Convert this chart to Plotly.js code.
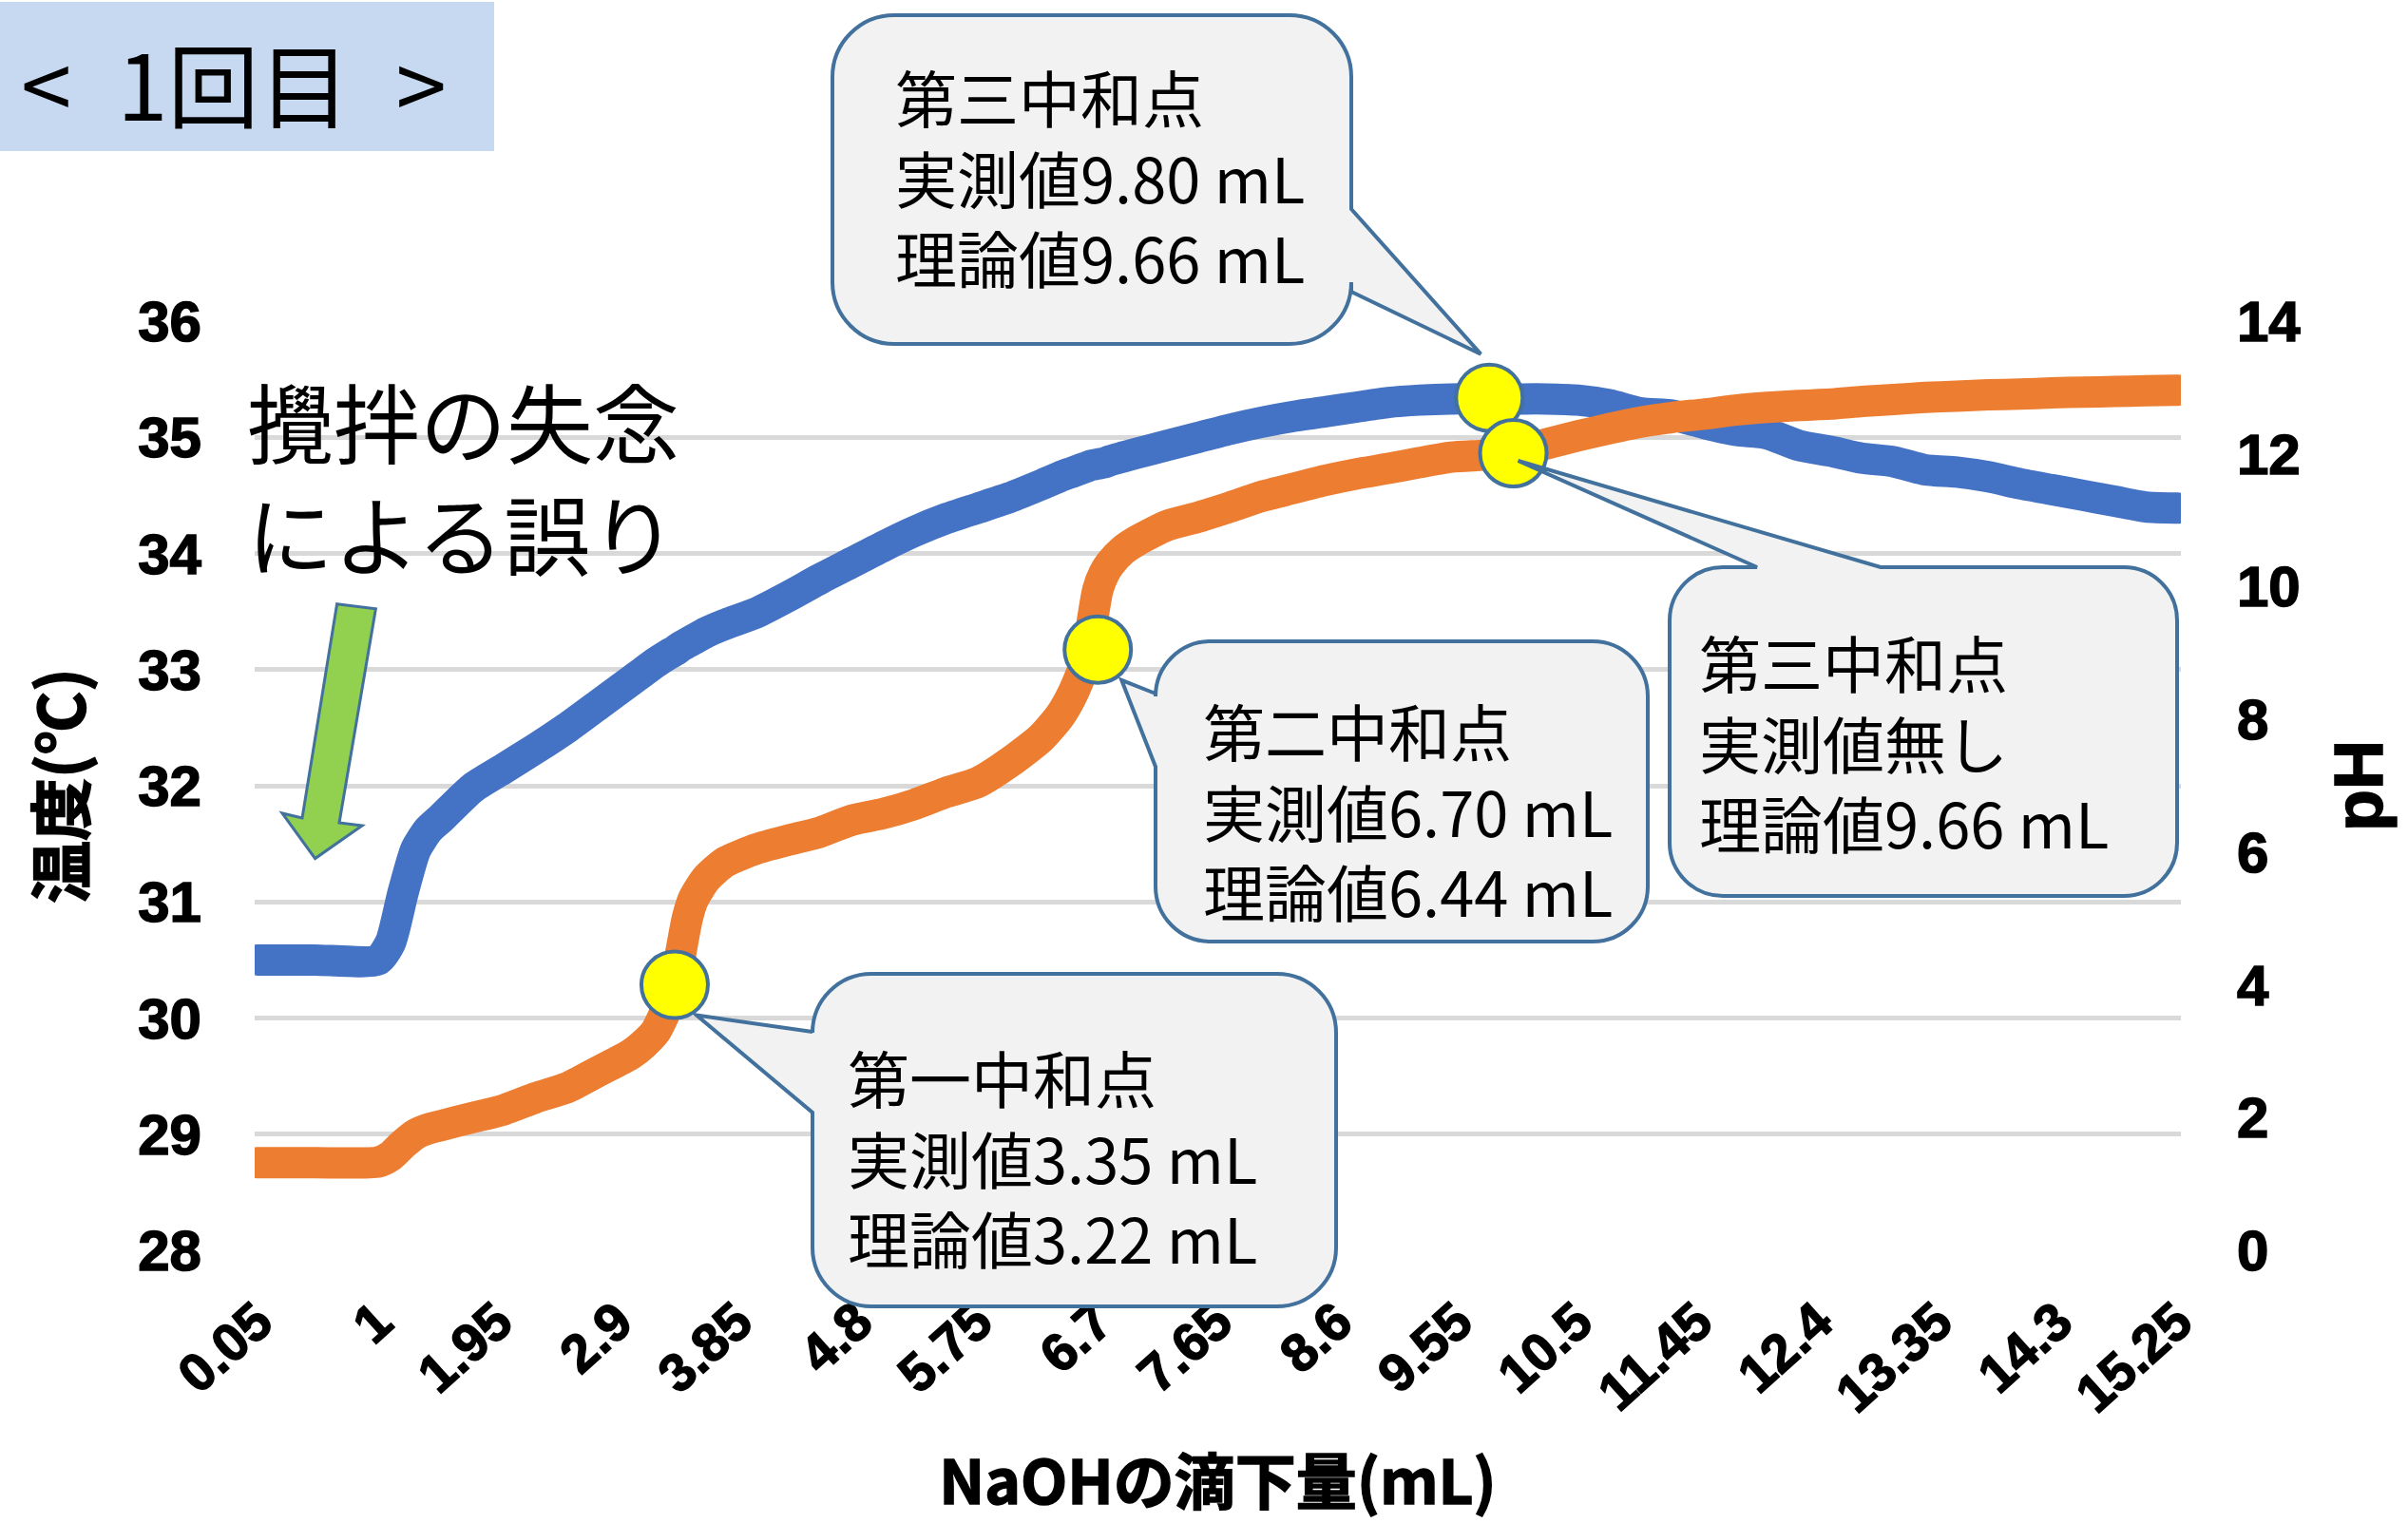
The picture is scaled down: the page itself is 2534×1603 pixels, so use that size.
<!DOCTYPE html>
<html lang="ja">
<head>
<meta charset="utf-8">
<title>1回目 滴定曲線</title>
<script src="https://cdn.plot.ly/plotly-3.0.1.min.js"></script>
<style>
  html, body { margin: 0; padding: 0; background: #ffffff; }
  #chart { width: 2534px; height: 1603px; }
  .js-line { stroke-linecap: round; stroke-linejoin: round; }
  .xtick text, .ytick text, .y2tick text,
  .xtitle, .ytitle, .y2title { stroke: #000000; stroke-width: 1.5px; }
</style>
</head>
<body>
<div id="chart"></div>
<script>
// NaOH added (mL)
const volume = [
  0.05, 0.5, 1.0, 1.1, 1.2, 1.3, 1.4, 1.5, 1.75, 2.0,
  2.25, 2.5, 2.75, 3.0, 3.1, 3.2, 3.3, 3.35, 3.4, 3.45,
  3.5, 3.6, 3.75, 4.0, 4.25, 4.5, 4.75, 5.0, 5.25, 5.5,
  5.75, 6.0, 6.25, 6.4, 6.5, 6.6, 6.65, 6.7, 6.75, 6.8,
  6.9, 7.0, 7.25, 7.5, 7.75, 8.0, 8.25, 8.5, 8.75, 9.0,
  9.25, 9.5, 9.75, 10.0, 10.25, 10.5, 10.75, 11.0, 11.25, 11.5,
  11.75, 12.0, 12.25, 12.5, 12.75, 13.0, 13.25, 13.5, 13.75, 14.0,
  14.25, 14.5, 14.75, 15.0, 15.25
];

// Temperature (°C)
const temperature = [
  30.5, 30.5, 30.5, 30.65, 31.08, 31.45, 31.62, 31.72, 31.98, 32.15,
  32.32, 32.5, 32.7, 32.9, 32.98, 33.06, 33.13, 33.16, 33.2, 33.23,
  33.26, 33.32, 33.39, 33.49, 33.63, 33.78, 33.92, 34.06, 34.19, 34.3,
  34.39, 34.48, 34.59, 34.66, 34.7, 34.74, 34.76, 34.77, 34.78, 34.8,
  34.83, 34.86, 34.93, 35.0, 35.07, 35.13, 35.18, 35.22, 35.26, 35.3,
  35.32, 35.33, 35.33, 35.33, 35.33, 35.32, 35.28, 35.21, 35.19, 35.12,
  35.06, 35.03, 34.93, 34.88, 34.82, 34.79, 34.72, 34.7, 34.66, 34.6,
  34.55, 34.5, 34.45, 34.4, 34.39
];

// pH
const ph = [
  1.32, 1.32, 1.33, 1.42, 1.6, 1.75, 1.83, 1.88, 2.0, 2.12,
  2.3, 2.45, 2.7, 2.95, 3.1, 3.3, 3.7, 4.0, 4.5, 5.0,
  5.3, 5.6, 5.85, 6.05, 6.18, 6.3, 6.48, 6.58, 6.72, 6.9,
  7.05, 7.35, 7.72, 8.05, 8.38, 8.85, 9.4, 9.95, 10.2, 10.35,
  10.55, 10.68, 10.92, 11.05, 11.2, 11.36, 11.48, 11.6, 11.7, 11.78,
  11.87, 11.95, 11.98, 12.02, 12.15, 12.27, 12.38, 12.48, 12.55, 12.6,
  12.66, 12.7, 12.73, 12.75, 12.79, 12.82, 12.85, 12.87, 12.89, 12.9,
  12.92, 12.93, 12.94, 12.95, 12.96
];

// x tick labels (every 19th reading)
const xTickLabels = [
  "0.05", "1", "1.95", "2.9", "3.85", "4.8", "5.75", "6.7", "7.65",
  "8.6", "9.55", "10.5", "11.45", "12.4", "13.35", "14.3", "15.25"
];

// neutralization point highlights
const phMarkVolume = [3.35, 6.70, 9.99];
const phMarkValue = [4.0, 9.05, 12.01];
const tempMarkVolume = [9.80];
const tempMarkValue = [35.34];

// callout texts
const calloutFirst = ["第一中和点", "実測値3.35 mL", "理論値3.22 mL"];
const calloutSecond = ["第二中和点", "実測値6.70 mL", "理論値6.44 mL"];
const calloutThirdTemp = ["第三中和点", "実測値9.80 mL", "理論値9.66 mL"];
const calloutThirdPh = ["第三中和点", "実測値無し", "理論値9.66 mL"];
const noteLines = ["攪拌の失念", "による誤り"];
const panelTitle = "<\u20021回目\u2002>";

// ---- geometry ----
const W = 2534, H = 1603;
const PLOT = { left: 268, right: 2295, top: 338, bottom: 1316 };
const xRange = [0.025, 15.275];
const tempRange = [28, 36];
const phRange = [0, 14];

const CJK = '"Noto Sans CJK JP", "Noto Sans", sans-serif';
const LATIN = '"Liberation Sans", Arial, sans-serif';
const EDGE = '#41719C';

function xToPx(v) {
  return PLOT.left + (v - xRange[0]) / (xRange[1] - xRange[0]) * (PLOT.right - PLOT.left);
}
function yToPx(v, r) {
  return PLOT.bottom - (v - r[0]) / (r[1] - r[0]) * (PLOT.bottom - PLOT.top);
}
function paperX(px) { return (px - PLOT.left) / (PLOT.right - PLOT.left); }
function paperY(py) { return (PLOT.bottom - py) / (PLOT.bottom - PLOT.top); }
function pt(x, y) { return paperX(x).toFixed(5) + ',' + paperY(y).toFixed(5); }

// rounded box with a wedge pointer
function bubblePath(b) {
  const { x0, y0, x1, y1, r, side, a, c, tip } = b;
  const k = 0.5523 * r;
  let d = 'M' + pt(x0 + r, y0);
  if (side === 'top') d += ' L' + pt(a, y0) + ' L' + pt(tip[0], tip[1]) + ' L' + pt(c, y0);
  d += ' L' + pt(x1 - r, y0);
  d += ' C' + pt(x1 - r + k, y0) + ' ' + pt(x1, y0 + r - k) + ' ' + pt(x1, y0 + r);
  if (side === 'right') d += ' L' + pt(x1, a) + ' L' + pt(tip[0], tip[1]) + ' L' + pt(x1, c);
  d += ' L' + pt(x1, y1 - r);
  d += ' C' + pt(x1, y1 - r + k) + ' ' + pt(x1 - r + k, y1) + ' ' + pt(x1 - r, y1);
  d += ' L' + pt(x0 + r, y1);
  d += ' C' + pt(x0 + r - k, y1) + ' ' + pt(x0, y1 - r + k) + ' ' + pt(x0, y1 - r);
  if (side === 'left') d += ' L' + pt(x0, c) + ' L' + pt(tip[0], tip[1]) + ' L' + pt(x0, a);
  d += ' L' + pt(x0, y0 + r);
  d += ' C' + pt(x0, y0 + r - k) + ' ' + pt(x0 + r - k, y0) + ' ' + pt(x0 + r, y0);
  return d + ' Z';
}

const mark1 = [xToPx(phMarkVolume[0]), yToPx(phMarkValue[0], phRange)];
const mark2 = [xToPx(phMarkVolume[1]), yToPx(phMarkValue[1], phRange)];
const mark4 = [xToPx(phMarkVolume[2]), yToPx(phMarkValue[2], phRange)];
const mark3 = [xToPx(tempMarkVolume[0]), yToPx(tempMarkValue[0], tempRange)];

const bubbles = [
  { box: { x0: 876, y0: 16, x1: 1422, y1: 362, r: 65, side: 'right', a: 220, c: 307,
           tip: [mark3[0] - 9, mark3[1] - 46] },
    lines: calloutThirdTemp, textX: 940, textY: 185 },
  { box: { x0: 1216, y0: 675, x1: 1734, y1: 991, r: 58, side: 'left', a: 730, c: 807,
           tip: [mark2[0] + 25, mark2[1] + 32] },
    lines: calloutSecond, textX: 1264, textY: 852 },
  { box: { x0: 855, y0: 1025, x1: 1406, y1: 1375, r: 62, side: 'left', a: 1086, c: 1171,
           tip: [mark1[0] + 23, mark1[1] + 32] },
    lines: calloutFirst, textX: 890, textY: 1217 },
  { box: { x0: 1757, y0: 597, x1: 2291, y1: 943, r: 56, side: 'top', a: 1849, c: 1979,
           tip: [mark4[0] + 5, mark4[1] + 8] },
    lines: calloutThirdPh, textX: 1786, textY: 780 }
];

const shapes = [];
const annotations = [];

// panel label
shapes.push({
  type: 'rect', xref: 'paper', yref: 'paper', layer: 'above',
  x0: paperX(0), x1: paperX(520), y0: paperY(159), y1: paperY(2),
  fillcolor: '#C6D9F1', line: { width: 0 }
});
annotations.push({
  xref: 'paper', yref: 'paper', x: paperX(20), y: paperY(86),
  xanchor: 'left', yanchor: 'middle', showarrow: false,
  text: panelTitle, font: { family: CJK, size: 96, color: '#000000' }
});

// green arrow
const arrowPts = [[354.6, 635.7], [395.4, 640.8], [357, 866], [381, 869],
                  [331.6, 903.6], [297, 856], [318, 861]];
shapes.push({
  type: 'path', xref: 'paper', yref: 'paper', layer: 'above',
  path: 'M' + arrowPts.map(p => pt(p[0], p[1])).join(' L') + ' Z',
  fillcolor: '#92D050', line: { color: EDGE, width: 3 }
});

// note text
annotations.push({
  xref: 'paper', yref: 'paper', x: paperX(258), y: paperY(500),
  xanchor: 'left', yanchor: 'middle', align: 'left', showarrow: false,
  text: noteLines.join('<br>'), font: { family: CJK, size: 91, color: '#000000' }
});

// callouts
bubbles.forEach(b => {
  shapes.push({
    type: 'path', xref: 'paper', yref: 'paper', layer: 'above',
    path: bubblePath(b.box), fillcolor: '#F2F2F2', line: { color: EDGE, width: 4 }
  });
  annotations.push({
    xref: 'paper', yref: 'paper', x: paperX(b.textX), y: paperY(b.textY),
    xanchor: 'left', yanchor: 'middle', align: 'left', showarrow: false,
    text: b.lines.join('<br>'), font: { family: CJK, size: 65, color: '#000000' }
  });
});

const tickFont = { family: LATIN, size: 60, color: '#000000', weight: 700 };
const titleFont = { family: CJK, size: 66, color: '#000000', weight: 700 };

const traces = [
  {
    x: volume, y: temperature, yaxis: 'y', type: 'scatter', mode: 'lines',
    name: '温度', line: { color: '#4472C4', width: 33, shape: 'spline', smoothing: 0.6 },
    hoverinfo: 'skip'
  },
  {
    x: tempMarkVolume, y: tempMarkValue, yaxis: 'y', type: 'scatter', mode: 'markers',
    name: '中和点', cliponaxis: false,
    marker: { size: 70, color: '#FFFF00', line: { color: EDGE, width: 4 } }, hoverinfo: 'skip'
  },
  {
    x: volume, y: ph, yaxis: 'y2', type: 'scatter', mode: 'lines',
    name: 'pH', line: { color: '#ED7D31', width: 33, shape: 'spline', smoothing: 0.6 },
    hoverinfo: 'skip'
  },
  {
    x: phMarkVolume, y: phMarkValue, yaxis: 'y2', type: 'scatter', mode: 'markers',
    name: '中和点', cliponaxis: false,
    marker: { size: 70, color: '#FFFF00', line: { color: EDGE, width: 4 } }, hoverinfo: 'skip'
  }
];

const layout = {
  width: W, height: H,
  margin: { l: PLOT.left, r: W - PLOT.right, t: PLOT.top, b: H - PLOT.bottom, pad: 0 },
  paper_bgcolor: '#ffffff', plot_bgcolor: '#ffffff',
  showlegend: false,
  xaxis: {
    range: xRange,
    tickmode: 'array',
    tickvals: xTickLabels.map(Number),
    ticktext: xTickLabels,
    tickangle: -42,
    tickfont: { family: LATIN, size: 56, color: '#000000', weight: 700 },
    ticks: '', showgrid: false, zeroline: false, showline: false,
    ticklabelstandoff: 30,
    title: { text: 'NaOHの滴下量(mL)', font: { family: CJK, size: 64, color: '#000000', weight: 700 }, standoff: 40 }
  },
  yaxis: {
    range: tempRange, tickmode: 'linear', tick0: 28, dtick: 1,
    tickfont: tickFont, ticks: '', ticklabelstandoff: 55,
    gridcolor: '#D9D9D9', gridwidth: 5, zeroline: false, showline: false,
    title: { text: '温度(℃)', font: titleFont, standoff: 34 }
  },
  yaxis2: {
    range: phRange, tickmode: 'linear', tick0: 0, dtick: 2,
    overlaying: 'y', side: 'right',
    tickfont: tickFont, ticks: '', ticklabelstandoff: 58,
    showgrid: false, zeroline: false, showline: false,
    title: { text: 'pH', font: { family: LATIN, size: 72, color: '#000000', weight: 700 }, standoff: 36 }
  },
  shapes: shapes,
  annotations: annotations
};

Plotly.newPlot('chart', traces, layout, { staticPlot: true, displayModeBar: false });
</script>
</body>
</html>
